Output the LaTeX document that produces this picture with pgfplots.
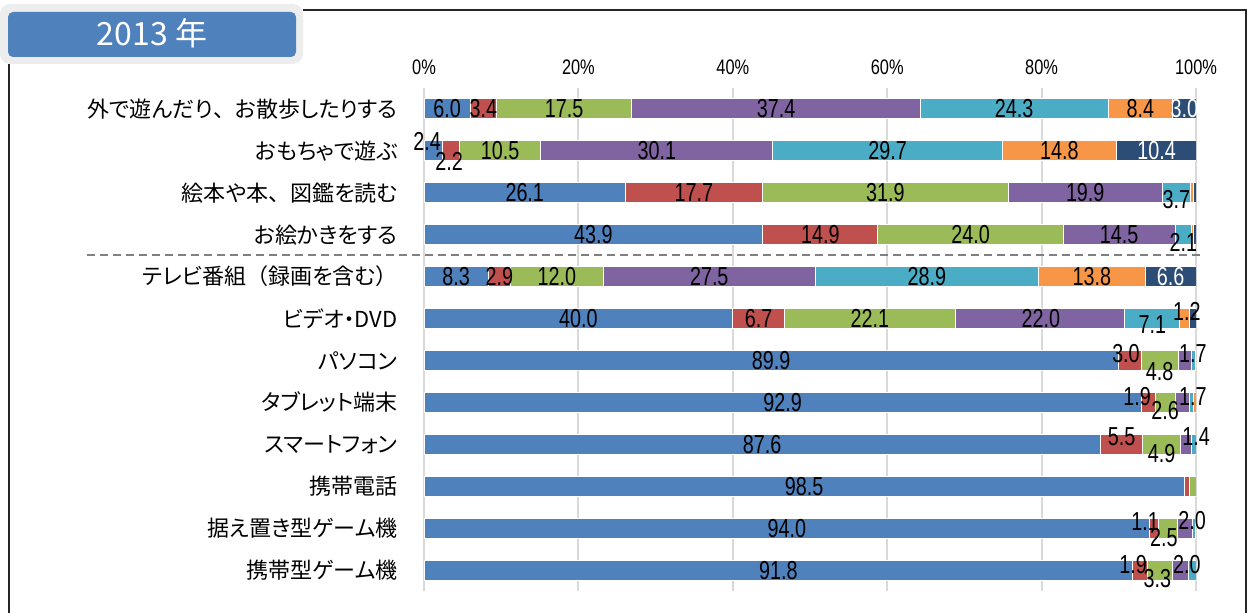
\documentclass[border=0pt]{standalone}
\usepackage{fontspec}
\usepackage{pgfplots}
\usepackage{pgfplotstable}
\pgfplotsset{compat=1.18}
\setmainfont[RawFeature=+palt]{Noto Sans CJK JP}
\newfontfamily\cjkfull{Noto Sans CJK JP}
\newfontfamily\numfont[FakeStretch=0.76]{Liberation Sans}
\newfontfamily\tickfont[FakeStretch=0.78]{Liberation Sans}
\newcommand{\fw}[1]{{\cjkfull #1}}

\definecolor{cBlue}{HTML}{4F81BD}
\definecolor{cRed}{HTML}{C0504D}
\definecolor{cGreen}{HTML}{9BBB59}
\definecolor{cPurple}{HTML}{8064A2}
\definecolor{cAqua}{HTML}{4BACC6}
\definecolor{cOrange}{HTML}{F79646}
\definecolor{cNavy}{HTML}{2C4D75}
\definecolor{titleblue}{HTML}{4F81BD}

% shares per row (row 0 = top)
\pgfplotstableread{
row c1   c2   c3   c4   c5   c6   c7
0   6.0  3.4  17.5 37.4 24.3 8.4  3.0
1   2.4  2.2  10.5 30.1 29.7 14.8 10.4
2   26.1 17.7 31.9 19.9 3.7  0.4  0.3
3   43.9 14.9 24.0 14.5 2.1  0.3  0.3
4   8.3  2.9  12.0 27.5 28.9 13.8 6.6
5   40.0 6.7  22.1 22.0 7.1  1.2  0.9
6   89.9 3.0  4.8  1.7  0.5  0.1  0.0
7   92.9 1.9  2.6  1.7  0.6  0.3  0.0
8   87.6 5.5  4.9  1.4  0.6  0.0  0.0
9   98.5 0.7  0.8  0.0  0.0  0.0  0.0
10  94.0 1.1  2.5  2.0  0.3  0.1  0.0
11  91.8 1.9  3.3  2.0  1.0  0.0  0.0
}\shares

% label positions (x in %, y in rows)
\pgfplotstableread{
x     y      lab
3.0   0      6.0
7.7   0      3.4
18.15 0      17.5
45.6  0      37.4
76.45 0      24.3
92.8  0      8.4
0.4   0.785  2.4
3.24  1.24   2.2
9.85  1      10.5
30.15 1      30.1
60.05 1      29.7
82.3  1      14.8
13.05 2      26.1
34.95 2      17.7
59.75 2      31.9
85.65 2      19.9
97.45 2.17   3.7
21.95 3      43.9
51.35 3      14.9
70.8  3      24.0
90.05 3      14.5
98.35 3.19   2.1
4.15  4      8.3
9.75  4      2.9
17.2  4      12.0
36.95 4      27.5
65.15 4      28.9
86.5  4      13.8
20.0  5      40.0
43.35 5      6.7
57.75 5      22.1
79.9  5      22.0
94.35 5.14   7.1
98.83 4.83   1.2
44.95 6      89.9
90.93 5.845  3.0
95.3  6.27   4.8
99.6  5.845  1.7
46.45 7      92.9
92.36 6.86   1.9
96.0  7.19   2.6
99.6  6.86   1.7
43.8  8      87.6
90.35 7.81   5.5
95.55 8.22   4.9
100.0 7.81   1.4
49.25 9      98.5
47.0  10     94.0
93.4  9.845  1.1
95.85 10.23  2.5
99.5  9.83   2.0
45.9  11     91.8
91.84 10.88  1.9
95.0  11.21  3.3
98.83 10.88  2.0
}\labblack

\pgfplotstableread{
x     y  lab
98.5  0  3.0
94.9  1  10.4
96.7  4  6.6
}\labwhite

\pgfplotsset{
  base/.style={
    at={(212pt,262pt)}, anchor=north west,
    scale only axis, width=386pt, height=251.5pt,
    xmin=0, xmax=100, ymin=-0.5, ymax=11.5,
    enlargelimits=false, y dir=reverse,
  },
  lab/.style={
    only marks, mark=none,
    nodes near coords={\numfont\fontsize{13}{13}\selectfont\pgfplotspointmeta},
    point meta=explicit symbolic,
    every node near coord/.append style={anchor=center, inner sep=0pt},
  },
}

\begin{document}
\begin{tikzpicture}
\path[use as bounding box] (0,0) rectangle (623.5pt,306pt);

\begin{axis}[
  base,
  xbar stacked, bar width=10pt,
  axis line style={draw=none},
  tick style={draw=none},
  xmajorgrids,
  major grid style={draw=black!15, line width=1pt},
  xtick={0,20,...,100},
  xticklabels={0\%,20\%,40\%,60\%,80\%,100\%},
  xticklabel pos=upper,
  xticklabel style={font=\tickfont\fontsize{10.5}{11}\selectfont, inner sep=0pt, anchor=south, yshift=6.5pt},
  ytick={0,...,11},
  yticklabels={{外で遊んだり\fw{、}お散歩したりする},{おもちゃで遊ぶ},{絵本や本\fw{、}図鑑を読む},{お絵かきをする},{テレビ番組\fw{（}録画を含む\fw{）}},{ビデオ・DVD},{パソコン},{タブレット端末},{スマートフォン},{携帯電話},{据え置き型ゲーム機},{携帯型ゲーム機}},
  yticklabel style={font=\fontsize{11}{12}\selectfont, inner sep=0pt, anchor=east, xshift=-13pt},
  every axis plot/.append style={draw=white, line width=0.5pt},
]
\addplot[fill=cBlue]   table[x=c1, y=row] {\shares};
\addplot[fill=cRed]    table[x=c2, y=row] {\shares};
\addplot[fill=cGreen]  table[x=c3, y=row] {\shares};
\addplot[fill=cPurple] table[x=c4, y=row] {\shares};
\addplot[fill=cAqua]   table[x=c5, y=row] {\shares};
\addplot[fill=cOrange] table[x=c6, y=row] {\shares};
\addplot[fill=cNavy]   table[x=c7, y=row] {\shares};
\end{axis}

\begin{axis}[base, hide axis, clip=false]
\addplot[lab, every node near coord/.append style={text=black}] table[x=x, y=y, meta=lab] {\labblack};
\addplot[lab, every node near coord/.append style={text=white}] table[x=x, y=y, meta=lab] {\labwhite};
\end{axis}

% separator between activities and media
\draw[black!50, line width=1pt, dash pattern=on 4pt off 2.5pt] (43.5pt,178.5pt) -- (600pt,178.5pt);

% outer frame
\draw[black!85, line width=0.6pt] (151.5pt,301pt) -- (623pt,301pt) -- (623pt,-1pt);
\draw[black!85, line width=0.6pt] (4.5pt,274pt) -- (4.5pt,-1pt);

% title box
\fill[black!7, rounded corners=5pt] (0pt,274pt) rectangle (151.5pt,304pt);
\fill[titleblue, rounded corners=2.5pt] (4pt,277.5pt) rectangle (148pt,300pt);
\node[text=white, font=\fontsize{16}{16}\selectfont] at (76pt,289.5pt) {2013 年};
\end{tikzpicture}
\end{document}
